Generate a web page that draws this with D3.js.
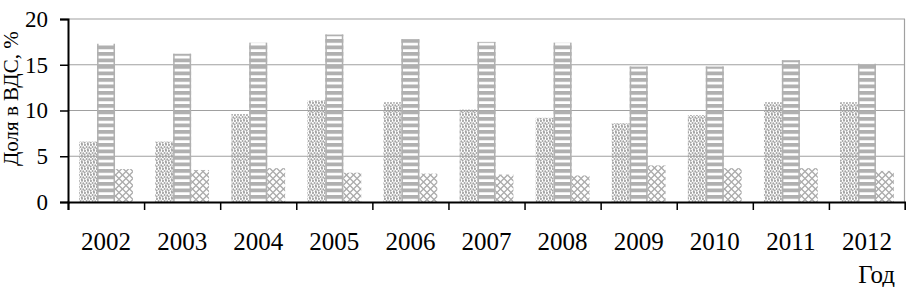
<!DOCTYPE html>
<html>
<head>
<meta charset="utf-8">
<script src="https://cdnjs.cloudflare.com/ajax/libs/d3/7.8.5/d3.min.js"></script>
<style>
    body { margin: 0; background: #fff; }
    #chart text { font-family: "Liberation Serif", "Times New Roman", serif; fill: #000; }
</style>
</head>
<body>
<div id="chart"></div>
<script>
// years on the x axis
let years = ['2002', '2003', '2004', '2005', '2006', '2007', '2008', '2009', '2010', '2011', '2012']
// three series, share in gross value added, %
let seriesDots = [6.6, 6.6, 9.6, 11.1, 10.9, 10.1, 9.2, 8.6, 9.5, 10.9, 10.9]
let seriesStripes = [17.3, 16.2, 17.4, 18.3, 17.8, 17.5, 17.4, 14.8, 14.8, 15.5, 15.1]
let seriesHatch = [3.6, 3.5, 3.7, 3.2, 3.1, 3.0, 2.9, 4.0, 3.7, 3.7, 3.4]
let yTicks = [0, 5, 10, 15, 20]

let serif = '"Liberation Serif", "Times New Roman", serif'
let svgWidth = 906
let svgHeight = 287
let padding = { 'left': 68, 'right': 1, 'top': 19, 'bottom': 85 }

let svg = d3.select('#chart').append('svg')
    .attr('width', svgWidth)
    .attr('height', svgHeight)

// fill patterns
let defs = svg.append('defs')
let pDots = defs.append('pattern')
    .attr('id', 'p-dots')
    .attr('patternUnits', 'userSpaceOnUse')
    .attr('width', 6).attr('height', 6)
// scattered dots, hand placed in one 6x6 tile
;[[1, 1], [4, 0.8], [2.6, 3], [5.3, 3.4], [0.6, 4.6], [3.8, 5.4]].forEach(p => {
    pDots.append('circle').attr('cx', p[0]).attr('cy', p[1]).attr('r', 1.05).attr('fill', '#a4a4a4')
})

let pStripes = defs.append('pattern')
    .attr('id', 'p-stripes')
    .attr('patternUnits', 'userSpaceOnUse')
    .attr('width', 10).attr('height', 6.5)
pStripes.append('rect').attr('x', 0).attr('y', 0).attr('width', 10).attr('height', 3.8).attr('fill', '#b0b0b0')

let pHatch = defs.append('pattern')
    .attr('id', 'p-hatch')
    .attr('patternUnits', 'userSpaceOnUse')
    .attr('width', 7).attr('height', 7)
pHatch.append('path')
    .attr('d', 'M0,3.5 L3.5,0 M3.5,7 L7,3.5 M0,3.5 L3.5,7 M3.5,0 L7,3.5')
    .attr('stroke', '#acacac')
    .attr('stroke-width', 1.4)
    .attr('fill', 'none')

let x = d3.scaleBand()
    .domain(years)
    .range([padding.left, svgWidth - padding.right])

let sub = d3.scaleBand()
    .domain([0, 1, 2])
    .range([0, x.bandwidth()])
    .paddingInner(0)
    .paddingOuter(0.62)

let y = d3.scaleLinear()
    .domain([0, 20])
    .range([svgHeight - padding.bottom, padding.top])

// grid lines and plot frame
svg.append('g')
    .selectAll('line')
    .data(yTicks.slice(1))
    .enter()
    .append('line')
    .attr('x1', padding.left)
    .attr('x2', svgWidth - padding.right)
    .attr('y1', d => y(d))
    .attr('y2', d => y(d))
    .attr('stroke', '#a0a0a0')
    .attr('stroke-width', 1.2)

svg.append('line')
    .attr('x1', svgWidth - padding.right - 0.5)
    .attr('x2', svgWidth - padding.right - 0.5)
    .attr('y1', y(20))
    .attr('y2', y(0))
    .attr('stroke', '#a0a0a0')
    .attr('stroke-width', 1.2)

// bars
let series = [
    { 'values': seriesDots, 'fill': 'url(#p-dots)' },
    { 'values': seriesStripes, 'fill': 'url(#p-stripes)' },
    { 'values': seriesHatch, 'fill': 'url(#p-hatch)' }
]
series.forEach((s, k) => {
    let g = svg.append('g')
    g.selectAll('rect')
        .data(s.values)
        .enter()
        .append('rect')
        .attr('x', (d, i) => x(years[i]) + sub(k))
        .attr('y', d => y(d))
        .attr('width', sub.bandwidth())
        .attr('height', d => y(0) - y(d))
        .attr('fill', s.fill)
    if (k === 1) {
        // side edges of the striped bars
        g.selectAll('path')
            .data(s.values)
            .enter()
            .append('path')
            .attr('d', (d, i) => {
                let x0 = x(years[i]) + sub(k) + 0.75
                let x1 = x0 + sub.bandwidth() - 1.5
                return `M${x0},${y(d)} L${x0},${y(0)} M${x1},${y(d)} L${x1},${y(0)}`
            })
            .attr('stroke', '#b0b0b0')
            .attr('stroke-width', 1.5)
    }
})

// axes
let axis_x = d3.axisBottom()
    .scale(d3.scaleLinear().domain([0, years.length]).range(x.range()))
    .tickValues(d3.range(years.length + 1))
    .tickSize(8)
    .tickFormat('')
svg.append('g')
    .attr('transform', `translate(0, ${y(0)})`)
    .call(axis_x)
    .call(g => g.select('.domain').attr('stroke', '#000').attr('stroke-width', 2))
    .call(g => g.selectAll('.tick line').attr('stroke', '#000').attr('stroke-width', 1.5))

svg.append('g')
    .selectAll('text')
    .data(years)
    .enter()
    .append('text')
    .attr('x', d => x(d) + x.bandwidth() / 2)
    .attr('y', 250)
    .attr('text-anchor', 'middle')
    .attr('font-family', serif)
    .attr('font-size', '25px')
    .text(d => d)

let axis_y = d3.axisLeft()
    .scale(y)
    .tickValues(yTicks)
    .tickSize(8)
    .tickPadding(12)
    .tickFormat(d => d)
svg.append('g')
    .attr('transform', `translate(${padding.left}, 0)`)
    .call(axis_y)
    .attr('font-size', '23px')
    .attr('font-family', serif)
    .call(g => g.select('.domain').attr('stroke', '#000').attr('stroke-width', 2))
    .call(g => g.selectAll('.tick line').attr('stroke', '#000').attr('stroke-width', 1.5))
    .call(g => g.selectAll('.tick text').attr('font-family', serif).attr('fill', '#000'))

// axis titles
svg.append('text')
    .attr('transform', `translate(18, 166) rotate(-90)`)
    .attr('text-anchor', 'start')
    .attr('font-family', serif)
    .attr('font-size', '21px')
    .text('Доля в ВДС, %')

svg.append('text')
    .attr('x', 895)
    .attr('y', 283)
    .attr('text-anchor', 'end')
    .attr('font-family', serif)
    .attr('font-size', '25px')
    .text('Год')
</script>
</body>
</html>
